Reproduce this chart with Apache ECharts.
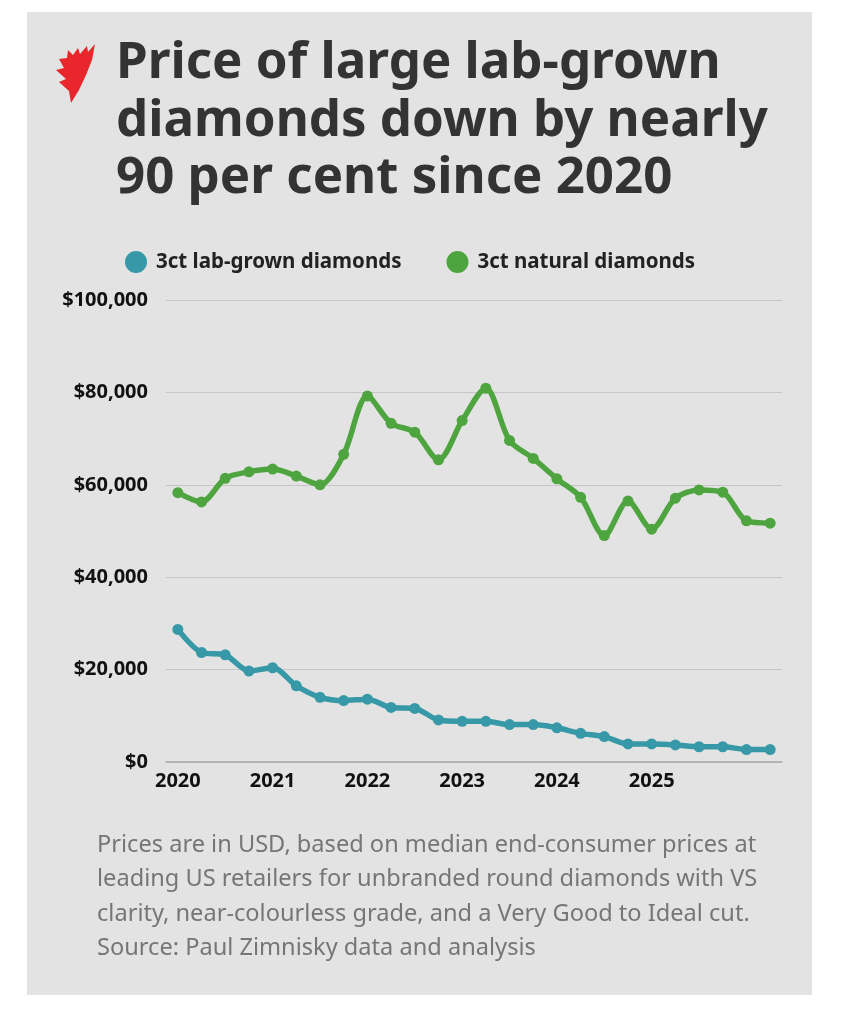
<!DOCTYPE html>
<html>
<head>
<meta charset="utf-8">
<script src="https://cdn.jsdelivr.net/npm/echarts@6/dist/echarts.min.js"></script>
<style>
html,body{margin:0;padding:0;background:#fff;}
#chart{width:841px;height:1024px;}
</style>
</head>
<body>
<div id="chart"></div>
<script>
// ---- data ----
var quarters = ['2020 Q1','2020 Q2','2020 Q3','2020 Q4','2021 Q1','2021 Q2','2021 Q3','2021 Q4','2022 Q1','2022 Q2','2022 Q3','2022 Q4','2023 Q1','2023 Q2','2023 Q3','2023 Q4','2024 Q1','2024 Q2','2024 Q3','2024 Q4','2025 Q1','2025 Q2','2025 Q3','2025 Q4','2026 Q1','2026 Q2'];
var xTickLabels = ['2020','2021','2022','2023','2024','2025'];
var labGrown = [28700,23700,23200,19700,20400,16500,14000,13300,13600,11800,11600,9100,8800,8800,8100,8100,7400,6200,5500,3900,3900,3700,3300,3300,2700,2700];
var natural = [58300,56300,61400,62800,63400,61900,60000,66600,79200,73300,71400,65400,73900,80900,69600,65700,61300,57300,49000,56500,50400,57100,58900,58400,52200,51700];
var yTicks = [0,20000,40000,60000,80000,100000];
var seriesNames = ['3ct lab-grown diamonds','3ct natural diamonds'];
var titleLines = ['Price of large lab-grown','diamonds down by nearly','90 per cent since 2020'];
var noteLines = ['Prices are in USD, based on median end-consumer prices at','leading US retailers for unbranded round diamonds with VS','clarity, near-colourless grade, and a Very Good to Ideal cut.','Source: Paul Zimnisky data and analysis'];

var TEAL = '#3799a7', GREEN = '#4ea53f';
var FONT = 'Noto Sans';

var chart = echarts.init(document.getElementById('chart'), null, {renderer:'canvas'});

function fmtMoney(v){ return '$' + v.toLocaleString('en-US'); }

var logoPts = [[95,44],[92,60],[86,75],[79,90],[71,103],[69,91],[59,82],[66,79],[56,70],[64,68],[59,59],[67,58],[68,50],[73,55],[78,48],[80,54],[87,46],[88,52]];

var graphics = [
  {type:'rect', shape:{x:27,y:12,width:785,height:983}, style:{fill:'#e4e3e4'}, z:-10},
  {type:'polygon', shape:{points:logoPts}, style:{fill:'#e8262b'}}
];
titleLines.forEach(function(t,i){
  graphics.push({type:'text', left:116, top:38 + i*57.5, style:{text:t, font:'bold 51px "'+FONT+'"', fill:'#333333'}});
});
noteLines.forEach(function(t,i){
  graphics.push({type:'text', left:97, top:833 + i*34.5, style:{text:t, font:'23.6px "'+FONT+'"', fill:'#767676'}});
});

var option = {
  backgroundColor:'#ffffff',
  animation:false,
  graphic: graphics,
  legend:{
    left:120, top:246,
    icon:'circle', itemWidth:22, itemHeight:22, itemGap:45,
    textStyle:{fontFamily:FONT, fontWeight:'bold', fontSize:20.5, color:'#222', padding:[0,0,0,4]},
    data: seriesNames
  },
  grid:{left:166, right:59, top:300, bottom:262, containLabel:false},
  xAxis:{
    type:'category', data: quarters, boundaryGap:true,
    axisLine:{show:true, lineStyle:{color:'#a9a9a9', width:1.5}},
    axisTick:{show:false},
    axisLabel:{
      interval:0, margin:9,
      fontFamily:FONT, fontWeight:'bold', fontSize:20, color:'#111',
      formatter:function(v){
        var p = v.split(' ');
        return (p[1]==='Q1' && xTickLabels.indexOf(p[0])>=0) ? p[0] : '';
      }
    }
  },
  yAxis:{
    type:'value', min:yTicks[0], max:yTicks[yTicks.length-1], interval:yTicks[1]-yTicks[0],
    axisLine:{show:false}, axisTick:{show:false},
    splitLine:{lineStyle:{color:'#c6c6c6', width:1}},
    axisLabel:{margin:18, fontFamily:FONT, fontWeight:'bold', fontSize:20, color:'#111', formatter:fmtMoney}
  },
  series:[
    {name:seriesNames[0], type:'line', data:labGrown, smooth:0.3, symbol:'circle', symbolSize:11,
      lineStyle:{color:TEAL, width:5.5}, itemStyle:{color:TEAL}},
    {name:seriesNames[1], type:'line', data:natural, smooth:0.3, symbol:'circle', symbolSize:11,
      lineStyle:{color:GREEN, width:5.5}, itemStyle:{color:GREEN}}
  ]
};
chart.setOption(option);
</script>
</body>
</html>
